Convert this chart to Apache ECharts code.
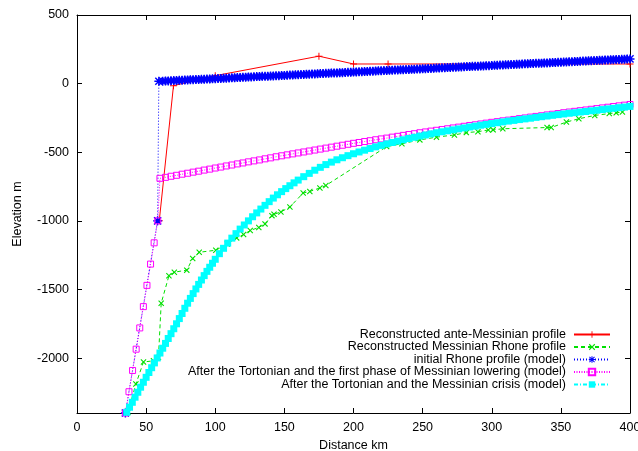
<!DOCTYPE html>
<html><head><meta charset="utf-8">
<script src="https://cdn.jsdelivr.net/npm/echarts@6/dist/echarts.min.js"></script>
<style>html,body{margin:0;padding:0;background:#fff}#c{width:638px;height:451px}</style>
</head><body><div id="c"></div>
<script>
const xTickLabels = [0, 50, 100, 150, 200, 250, 300, 350, 400];
const yTickLabels = [500, 0, -500, -1000, -1500, -2000];
const seriesNames = [
  'Reconstructed ante-Messinian profile',
  'Reconstructed Messinian Rhone profile',
  'initial Rhone profile (model)',
  'After the Tortonian and the first phase of Messinian lowering (model)',
  'After the Tortonian and the Messinian crisis (model)'
];
const anteMessinian = [[59.5,-1000],[69.8,-15],[100,58],[175,200],[200,143],[225,143],[400,143]];
const messinianRhone = [[36.8,-2395],[42.6,-2189],[48.1,-2028],[55.3,-2020],[58.9,-1996],[60.9,-1600],[66.5,-1400],[70.4,-1374],[79.4,-1359],[83.7,-1274],[88.4,-1229],[100.4,-1214],[108.7,-1168],[115.5,-1124],[120.5,-1100],[125.3,-1070],[131.5,-1048],[136,-1022],[141,-962],[142.5,-952],[147.5,-935],[154,-899],[163.6,-797],[168.4,-786],[175.7,-760],[180,-742],[224,-459],[235,-438],[248,-410],[260,-390],[273,-374],[281.6,-357],[290,-350],[297.5,-338],[301,-337],[308,-329],[340,-320],[343,-320],[354,-280],[363,-256],[374.5,-232],[385,-218],[390,-213],[394.5,-207]];
const initialProfile = [[35,-2400],[58.3,-1000],[59.2,17],[62,18],[64,19],[66,20],[68,21],[70,22],[72,23],[74,24],[76,25],[78,26],[80,27],[82,28],[84,29],[86,30],[88,30],[90,31],[92,32],[94,33],[96,34],[98,35],[100,36],[102,37],[104,38],[106,39],[108,40],[110,41],[112,42],[114,43],[116,44],[118,45],[120,46],[122,47],[124,48],[126,49],[128,50],[130,51],[132,52],[134,53],[136,53],[138,54],[140,55],[142,56],[144,57],[146,58],[148,59],[150,60],[152,61],[154,62],[156,63],[158,64],[160,65],[162,66],[164,67],[166,68],[168,69],[170,70],[172,71],[174,72],[176,73],[178,74],[180,75],[182,76],[184,77],[186,78],[188,78],[190,79],[192,80],[194,81],[196,82],[198,83],[200,84],[202,85],[204,86],[206,87],[208,88],[210,89],[212,90],[214,91],[216,92],[218,93],[220,94],[222,95],[224,96],[226,97],[228,98],[230,99],[232,100],[234,101],[236,101],[238,102],[240,103],[242,104],[244,105],[246,106],[248,107],[250,108],[252,109],[254,110],[256,111],[258,112],[260,113],[262,114],[264,115],[266,116],[268,117],[270,118],[272,119],[274,120],[276,121],[278,122],[280,123],[282,124],[284,125],[286,126],[288,126],[290,127],[292,128],[294,129],[296,130],[298,131],[300,132],[302,133],[304,134],[306,135],[308,136],[310,137],[312,138],[314,139],[316,140],[318,141],[320,142],[322,143],[324,144],[326,145],[328,146],[330,147],[332,148],[334,149],[336,149],[338,150],[340,151],[342,152],[344,153],[346,154],[348,155],[350,156],[352,157],[354,158],[356,159],[358,160],[360,161],[362,162],[364,163],[366,164],[368,165],[370,166],[372,167],[374,168],[376,169],[378,170],[380,171],[382,172],[384,173],[386,174],[388,174],[390,175],[392,176],[394,177],[396,178],[398,179],[400,180]];
const firstLowering = [[35,-2400],[37.6,-2245],[40.2,-2090],[42.8,-1935],[45.4,-1780],[48,-1625],[50.6,-1470],[53.2,-1315],[55.8,-1160],[58.4,-1000],[60,-690],[64,-683],[68,-675],[72,-668],[76,-660],[80,-653],[84,-645],[88,-638],[92,-630],[96,-623],[100,-615],[104,-608],[108,-600],[112,-593],[116,-585],[120,-578],[124,-570],[128,-563],[132,-556],[136,-548],[140,-541],[144,-533],[148,-526],[152,-519],[156,-512],[160,-505],[164,-498],[168,-491],[172,-484],[176,-477],[180,-470],[184,-463],[188,-456],[192,-449],[196,-442],[200,-435],[204,-429],[208,-422],[212,-416],[216,-409],[220,-403],[224,-397],[228,-390],[232,-384],[236,-377],[240,-371],[244,-365],[248,-358],[252,-352],[256,-346],[260,-340],[264,-335],[268,-329],[272,-323],[276,-317],[280,-311],[284,-305],[288,-300],[292,-294],[296,-288],[300,-282],[304,-277],[308,-271],[312,-266],[316,-261],[320,-255],[324,-250],[328,-244],[332,-239],[336,-234],[340,-228],[344,-223],[348,-218],[352,-212],[356,-207],[360,-202],[364,-197],[368,-192],[372,-187],[376,-182],[380,-177],[384,-172],[388,-167],[392,-162],[396,-157],[400,-152]];
const messinianCrisis = [[36,-2395],[38,-2358],[40,-2322],[42,-2285],[44,-2249],[46,-2212],[48,-2176],[50,-2140],[52,-2105],[54,-2070],[56,-2035],[58,-1999],[60,-1963],[62,-1928],[64,-1893],[66,-1857],[68,-1822],[70,-1786],[72,-1750],[74,-1712],[76,-1675],[78,-1637],[80,-1600],[82,-1565],[84,-1530],[86,-1496],[88,-1463],[90,-1431],[92,-1399],[94,-1368],[96,-1338],[98,-1309],[100,-1280],[103,-1239],[106,-1200],[109,-1162],[112,-1126],[115,-1093],[118,-1060],[121,-1030],[124,-1000],[127,-970],[130,-942],[133,-914],[136,-887],[139,-860],[142,-834],[145,-810],[148,-787],[151,-765],[154,-744],[157,-723],[160,-703],[164,-678],[168,-654],[172,-631],[176,-610],[180,-590],[184,-572],[188,-555],[192,-540],[196,-525],[200,-511],[204,-498],[208,-485],[212,-473],[216,-461],[220,-450],[224,-439],[228,-429],[232,-419],[236,-409],[240,-400],[244,-391],[248,-382],[252,-374],[256,-366],[260,-358],[264,-351],[268,-344],[272,-337],[276,-330],[280,-323],[284,-316],[288,-310],[292,-303],[296,-297],[300,-291],[304,-285],[308,-279],[312,-273],[316,-268],[320,-262],[324,-257],[328,-252],[332,-246],[336,-241],[340,-236],[344,-231],[348,-226],[352,-221],[356,-216],[360,-212],[364,-207],[368,-203],[372,-198],[376,-194],[380,-189],[384,-184],[388,-180],[392,-175],[396,-171],[400,-166]];

const FONT = '"Liberation Sans", Arial, Helvetica, sans-serif';
const FS = 12.5;
const PLUS = 'path://M4.3,0L5.7,0L5.7,4.3L10,4.3L10,5.7L5.7,5.7L5.7,10L4.3,10L4.3,5.7L0,5.7L0,4.3L4.3,4.3Z';
const CROSS = 'path://M0,1.3L1.3,0L5,3.7L8.7,0L10,1.3L6.3,5L10,8.7L8.7,10L5,6.3L1.3,10L0,8.7L3.7,5Z';
const STAR = 'path://M4.2,0L5.8,0L5.8,4.2L10,4.2L10,5.8L5.8,5.8L5.8,10L4.2,10L4.2,5.8L0,5.8L0,4.2L4.2,4.2Z M0.5,1.6L1.6,0.5L5,3.9L8.4,0.5L9.5,1.6L6.1,5L9.5,8.4L8.4,9.5L5,6.1L1.6,9.5L0.5,8.4L3.9,5Z';

const chart = echarts.init(document.getElementById('c'), null, {renderer: 'canvas'});
const legendTops = [328, 340.5, 353, 365.5, 378];
const plain = v => String(v);
const axisCommon = {
  axisLine: {show: true, onZero: false, lineStyle: {color: '#000', width: 1}},
  axisTick: {show: true, inside: true, length: 5, lineStyle: {color: '#000'}},
  splitLine: {show: false}
};
const option = {
  animation: false,
  backgroundColor: '#fff',
  textStyle: {fontFamily: FONT},
  grid: {left: 77, right: 8, top: 15, bottom: 38, containLabel: false, outerBoundsMode: 'none'},
  xAxis: [
    Object.assign({}, axisCommon, {
      type: 'value', min: 0, max: 400, interval: 50, position: 'bottom',
      name: 'Distance km', nameLocation: 'middle', nameGap: 25,
      nameTextStyle: {color: '#000', fontSize: FS, fontFamily: FONT},
      axisLabel: {color: '#000', fontSize: FS, margin: 8, fontFamily: FONT,
        customValues: xTickLabels, formatter: plain}
    }),
    Object.assign({}, axisCommon, {
      type: 'value', min: 0, max: 400, interval: 50, position: 'top',
      axisLabel: {show: false}
    })
  ],
  yAxis: [
    Object.assign({}, axisCommon, {
      type: 'value', min: -2400, max: 500, position: 'left',
      name: 'Elevation m', nameLocation: 'middle', nameGap: 53, nameRotate: 90,
      nameTextStyle: {color: '#000', fontSize: FS, fontFamily: FONT},
      axisTick: {show: true, inside: true, length: 5, lineStyle: {color: '#000'}, customValues: yTickLabels},
      axisLabel: {color: '#000', fontSize: FS, margin: 8, fontFamily: FONT, customValues: yTickLabels, formatter: plain}
    }),
    Object.assign({}, axisCommon, {
      type: 'value', min: -2400, max: 500, position: 'right',
      axisTick: {show: true, inside: true, length: 5, lineStyle: {color: '#000'}, customValues: yTickLabels},
      axisLabel: {show: false, customValues: yTickLabels}
    })
  ],
  legend: seriesNames.map((n, i) => ({
    data: [n], orient: 'vertical', right: 27, top: legendTops[i], align: 'right',
    itemWidth: 36, itemHeight: 8, padding: 0, selectedMode: false,
    textStyle: {color: '#000', fontSize: FS, fontFamily: FONT, padding: [0, 3, 0, 0]}
  })),
  series: [
    {name: seriesNames[0], type: 'line', data: anteMessinian, symbol: PLUS, symbolSize: 7,
      showAllSymbol: true, lineStyle: {color: '#ff0000', width: 1}, itemStyle: {color: '#ff0000'}},
    {name: seriesNames[1], type: 'line', data: messinianRhone, symbol: CROSS, symbolSize: 6,
      showAllSymbol: true, lineStyle: {color: '#00e000', width: 1, type: [4, 3]}, itemStyle: {color: '#00e000'}},
    {name: seriesNames[2], type: 'line', data: initialProfile, symbol: STAR, symbolSize: 9,
      showAllSymbol: true, lineStyle: {color: '#0000ff', width: 1, type: [1, 2]}, itemStyle: {color: '#0000ff'}},
    {name: seriesNames[3], type: 'line', data: firstLowering, symbol: 'rect', symbolSize: 6,
      showAllSymbol: true, lineStyle: {color: '#ff00ff', width: 1, type: [1, 1.5]},
      itemStyle: {color: 'rgba(255,255,255,0)', borderColor: '#ff00ff', borderWidth: 1}},
    {name: seriesNames[4], type: 'line', data: messinianCrisis, symbol: 'rect', symbolSize: 7,
      showAllSymbol: true, lineStyle: {color: '#00ffff', width: 1, type: [4, 2, 1, 2]}, itemStyle: {color: '#00ffff'}}
  ]
};
chart.setOption(option);
</script>
</body></html>
